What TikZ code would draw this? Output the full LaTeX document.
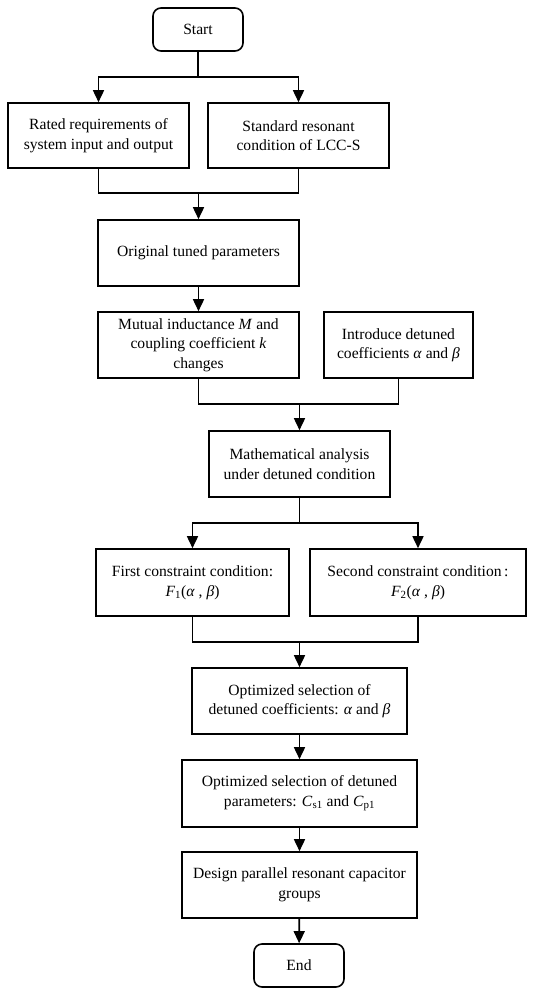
\documentclass[tikz,border=0pt]{standalone}
\usepackage{fontspec}
\setmainfont{Liberation Serif}
\usetikzlibrary{arrows.meta}

\begin{document}
\begin{tikzpicture}[x=1pt, y=1pt,
        box/.style={draw, line width=1.6pt, align=center, inner sep=2pt,
            font=\fontsize{15.6}{19.5}\selectfont},
        term/.style={box, rounded corners=8pt, minimum width=90pt, minimum height=43pt},
        arr/.style={-{Triangle[length=12pt, width=11pt]}, line width=1.6pt},
        link/.style={line width=1.6pt}]
        \useasboundingbox (0,0) rectangle (534,-988);
        % boxes
        \node[term] (start) at (198,-29.5) {Start};
        \node[box, minimum width=181pt, minimum height=65pt] (rated) at (98.5,-135.5)
            {Rated requirements of\\system input and output};
        \node[box, minimum width=181pt, minimum height=65pt] (standard) at (298.5,-135.5)
            {Standard resonant\\condition of LCC-S};
        \node[box, minimum width=201pt, minimum height=66pt] (orig) at (198.5,-253)
            {Original tuned parameters};
        \node[box, minimum width=201pt, minimum height=66pt] (mutual) at (198.5,-345)
            {Mutual inductance \textit{M} and\\coupling coefficient \textit{k}\\changes};
        \node[box, minimum width=149pt, minimum height=66pt] (intro) at (398.5,-345)
            {Introduce detuned\\coefficients \textit{α} and \textit{β}};
        \node[box, minimum width=181pt, minimum height=66pt] (math) at (299.5,-464)
            {Mathematical analysis\\under detuned condition};
        \node[box, minimum width=193pt, minimum height=67pt] (first) at (192.5,-582.5)
            {First constraint condition:\\\textit{F}\textsubscript{1}(\textit{α} , \textit{β})};
        \node[box, minimum width=216pt, minimum height=67pt] (second) at (418,-582.5)
            {Second constraint condition\,:\\\textit{F}\textsubscript{2}(\textit{α} , \textit{β})};
        \node[box, minimum width=215pt, minimum height=66pt] (optab) at (299.5,-701)
            {Optimized selection of\\detuned coefficients: \textit{α} and \textit{β}};
        \node[box, minimum width=235pt, minimum height=67pt] (optc) at (299.5,-793.5)
            {Optimized selection of detuned\\parameters: \textit{C}\textsubscript{s1} and \textit{C}\textsubscript{p1}};
        \node[box, minimum width=235pt, minimum height=66pt] (design) at (299.5,-885)
            {Design parallel resonant capacitor\\groups};
        \node[term] (end) at (299,-965.5) {End};
        % connectors
        \coordinate (split1) at (198,-77);
        \draw[link] (start.south) -- (split1);
        \draw[arr] (split1) -| (rated.north);
        \draw[arr] (split1) -| (standard.north);
        \coordinate (join1) at (198.5,-193);
        \draw[link] (rated.south) |- (join1) -| (standard.south);
        \draw[arr] (join1) -- (orig.north);
        \draw[arr] (orig) -- (mutual);
        \coordinate (join2) at (299.5,-404);
        \draw[link] (mutual.south) |- (join2) -| (intro.south);
        \draw[arr] (join2) -- (math.north);
        \coordinate (split2) at (299.5,-523);
        \draw[link] (math.south) -- (split2);
        \draw[arr] (split2) -| (first.north);
        \draw[arr] (split2) -| (second.north);
        \coordinate (join3) at (299.5,-642);
        \draw[link] (first.south) |- (join3) -| (second.south);
        \draw[arr] (join3) -- (optab.north);
        \draw[arr] (optab) -- (optc);
        \draw[arr] (optc) -- (design);
        \draw[arr] (design) -- (end);
\end{tikzpicture}
\end{document}
